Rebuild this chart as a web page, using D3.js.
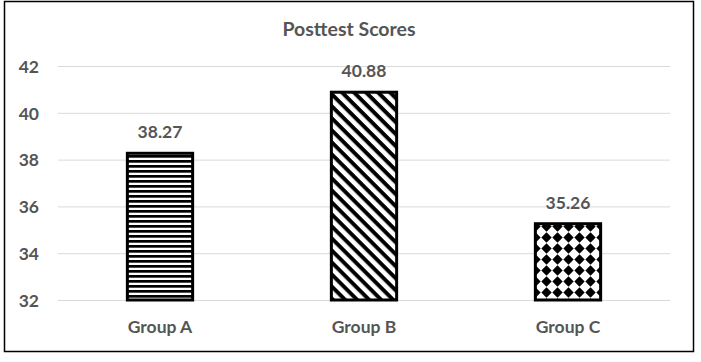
<!DOCTYPE html>
<html lang="en">
<head>
    <meta charset="UTF-8"/>
    <title>Posttest Scores</title>
    <script src="https://d3js.org/d3.v7.min.js"></script>
    <style>
        body { margin: 0; background: #fff; }
        text { font-family: "Lato", "Liberation Sans", sans-serif; font-weight: bold; fill: #555; }
    </style>
</head>
<body>
<script>
    var groups = ["Group A", "Group B", "Group C"];
    var scores = [38.27, 40.88, 35.26];
    var yTicks = [32, 34, 36, 38, 40, 42];
    var patterns = ["hstripe", "dstripe", "diamond"];

    var w = 701, h = 362;
    var margin = {left: 58, right: 31, top: 66, bottom: 62};
    var fs = "17.5px";

    var svg = d3.select("body").append("svg")
        .attr("width", w)
        .attr("height", h);

    // patterns
    var defs = svg.append("defs");

    var p1 = defs.append("pattern").attr("id", "hstripe")
        .attr("patternUnits", "userSpaceOnUse").attr("width", 8).attr("height", 5);
    p1.append("rect").attr("width", 8).attr("height", 5).attr("fill", "#fff");
    p1.append("rect").attr("y", 0).attr("width", 8).attr("height", 2.7).attr("fill", "#000");

    var p2 = defs.append("pattern").attr("id", "dstripe")
        .attr("patternUnits", "userSpaceOnUse").attr("width", 8.5).attr("height", 8.5)
        .attr("patternTransform", "rotate(45)");
    p2.append("rect").attr("width", 8.5).attr("height", 8.5).attr("fill", "#fff");
    p2.append("rect").attr("width", 8.5).attr("height", 4).attr("fill", "#000");

    var p3 = defs.append("pattern").attr("id", "diamond")
        .attr("patternUnits", "userSpaceOnUse").attr("width", 11).attr("height", 11)
        .attr("x", 2).attr("y", 1);
    p3.append("rect").attr("width", 11).attr("height", 11).attr("fill", "#fff");
    p3.append("path").attr("d", "M5.5,0.3 L10.7,5.5 L5.5,10.7 L0.3,5.5 Z").attr("fill", "#000");

    // outer border
    svg.append("rect")
        .attr("x", 4.5).attr("y", 1.5)
        .attr("width", 689).attr("height", 350)
        .attr("fill", "none").attr("stroke", "#000").attr("stroke-width", 1.5);

    var x = d3.scaleBand()
        .domain(groups)
        .range([margin.left, w - margin.right])
        .paddingInner(0.68).paddingOuter(0.34);

    var y = d3.scaleLinear()
        .domain([32, 42])
        .range([h - margin.bottom, margin.top]);

    // gridlines
    svg.append("g").selectAll("line")
        .data(yTicks).enter().append("line")
        .attr("x1", margin.left).attr("x2", w - margin.right)
        .attr("y1", function(d) { return y(d) + 0.5; })
        .attr("y2", function(d) { return y(d) + 0.5; })
        .attr("stroke", "#d9d9d9").attr("stroke-width", 1);

    // y axis labels
    var yAxis = d3.axisLeft(y).tickValues(yTicks).tickSize(0).tickPadding(0);
    var gy = svg.append("g").attr("transform", "translate(39,0)").call(yAxis);
    gy.select(".domain").remove();
    gy.selectAll("text").attr("font-size", fs).attr("dy", "0.36em")
        .style("font-family", "Lato, sans-serif").attr("fill", "#555");

    // x axis labels
    var xAxis = d3.axisBottom(x).tickSize(0).tickPadding(0);
    var gx = svg.append("g").attr("transform", "translate(0," + (h - margin.bottom + 27) + ")").call(xAxis);
    gx.select(".domain").remove();
    gx.selectAll("text").attr("font-size", fs).attr("dy", "0.36em")
        .style("font-family", "Lato, sans-serif").attr("fill", "#555");

    // bars
    svg.selectAll(".bar")
        .data(scores).enter().append("rect")
        .attr("class", "bar")
        .attr("x", function(d, i) { return x(groups[i]); })
        .attr("y", function(d) { return y(d); })
        .attr("width", x.bandwidth())
        .attr("height", function(d) { return y(32) - y(d); })
        .attr("fill", function(d, i) { return "url(#" + patterns[i] + ")"; })
        .attr("stroke", "#000").attr("stroke-width", 3);

    // value labels
    svg.selectAll(".val")
        .data(scores).enter().append("text")
        .attr("class", "val")
        .attr("x", function(d, i) { return x(groups[i]) + x.bandwidth() / 2; })
        .attr("y", function(d) { return y(d) - 15; })
        .attr("text-anchor", "middle")
        .attr("font-size", fs)
        .text(function(d) { return d.toFixed(2); });

    // title
    svg.append("text")
        .attr("x", 349).attr("y", 36)
        .attr("text-anchor", "middle")
        .attr("font-size", "19.5px")
        .text("Posttest Scores");
</script>
</body>
</html>
